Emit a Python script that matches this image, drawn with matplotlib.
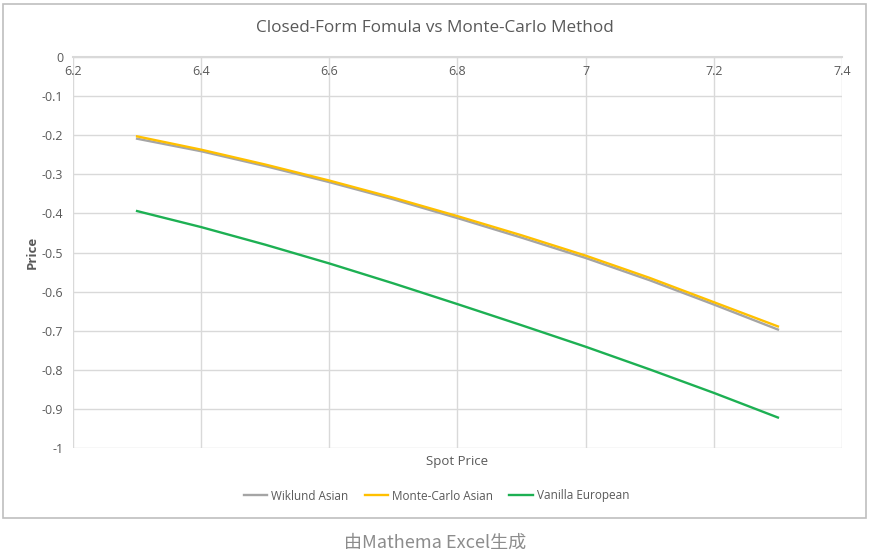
import matplotlib.pyplot as plt
from matplotlib.patches import Rectangle
from matplotlib.ticker import FormatStrFormatter, MultipleLocator

# Data
spot = [6.3, 6.4, 6.5, 6.6, 6.7, 6.8, 6.9, 7.0, 7.1, 7.2, 7.3]
wiklund = [-0.209, -0.241, -0.279, -0.320, -0.364, -0.412, -0.462, -0.514, -0.571, -0.633, -0.697]
monte_carlo = [-0.203, -0.237, -0.275, -0.316, -0.360, -0.407, -0.456, -0.508, -0.565, -0.627, -0.689]
vanilla = [-0.394, -0.435, -0.480, -0.528, -0.579, -0.632, -0.686, -0.741, -0.799, -0.859, -0.922]

text_col = "#595959"
grid_col = "#d9d9d9"

plt.rcParams["font.family"] = ["Open Sans", "DejaVu Sans"]

fig = plt.figure(figsize=(8.73, 5.56), dpi=100)
ax = fig.add_axes([0.0836, 0.1942, 0.8809, 0.7033])

# Chart frame
fig.patches.append(Rectangle((3 / 873, 1 - 518 / 556), 863 / 873, 514 / 556,
                             transform=fig.transFigure, fill=False,
                             edgecolor="#bfbfbf", linewidth=1.2))

ax.plot(spot, wiklund, color="#A5A5A5", linewidth=1.7, label="Wiklund Asian")
ax.plot(spot, monte_carlo, color="#FFC000", linewidth=1.7, label="Monte-Carlo Asian")
ax.plot(spot, vanilla, color="#1DB053", linewidth=1.7, label="Vanilla European")

ax.set_xlim(6.2, 7.4)
ax.set_ylim(-1, 0)
ax.xaxis.set_major_locator(MultipleLocator(0.2))
ax.yaxis.set_major_locator(MultipleLocator(0.1))
ax.xaxis.set_major_formatter(FormatStrFormatter("%g"))
ax.yaxis.set_major_formatter(FormatStrFormatter("%g"))

ax.grid(True, color=grid_col, linewidth=1)
ax.set_axisbelow(True)
for s in ["left", "right", "bottom"]:
    ax.spines[s].set_visible(False)
ax.spines["top"].set_color(grid_col)
ax.spines["top"].set_linewidth(1.5)

ax.xaxis.tick_top()
ax.tick_params(axis="x", length=0, pad=-15, labelsize=9, labelcolor=text_col)
ax.tick_params(axis="y", length=0, pad=7, labelsize=9, labelcolor=text_col)

ax.set_xlabel("Spot Price", fontsize=9.5, color=text_col, labelpad=5)
ax.set_ylabel("Price", fontsize=9.5, color=text_col, fontweight="bold", labelpad=2)

fig.text(0.498, 1 - 28 / 556, "Closed-Form Fomula vs Monte-Carlo Method",
         ha="center", va="center", fontsize=12.3, color=text_col)

fig.legend(loc="center", bbox_to_anchor=(0.5, 1 - 496 / 556), ncol=3,
           frameon=False, fontsize=8.5, labelcolor=text_col,
           handlelength=2.0, handletextpad=0.3, columnspacing=1.4)

fig.text(0.498, 1 - 543 / 556, "由Mathema Excel生成", ha="center", va="center",
         fontsize=13, color="#8c8c8c",
         family=["Noto Sans CJK SC", "DejaVu Sans"])

plt.savefig("out.png", dpi=100)
